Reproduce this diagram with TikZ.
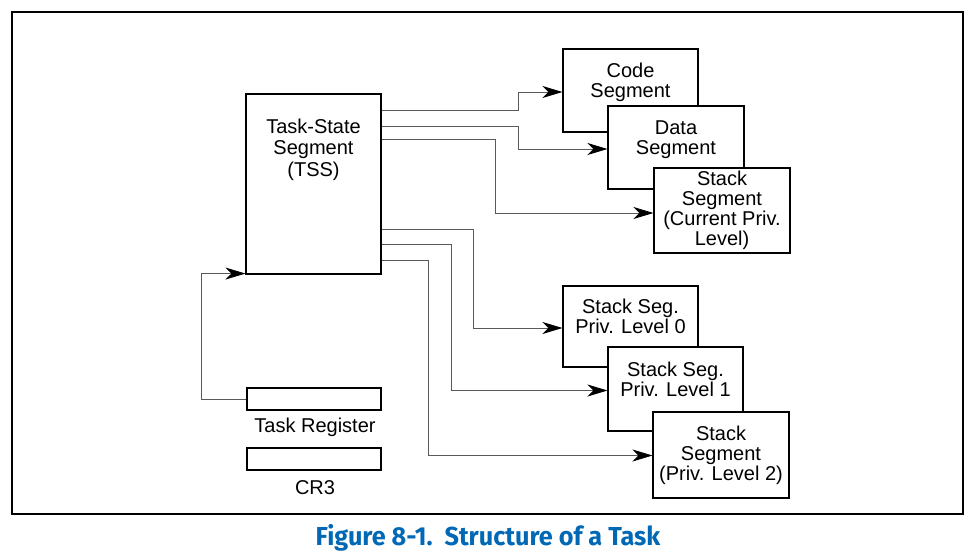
\documentclass[tikz,border=0pt]{standalone}
\usepackage{fontspec}
\setmainfont{Liberation Sans}
\newfontfamily\capfont{Fira Sans}
\usetikzlibrary{arrows.meta}
\definecolor{capblue}{RGB}{0,104,181}
\begin{document}
\begin{tikzpicture}[
			x=1pt, y=-1pt,
			seg/.style={draw, line width=1.1pt, fill=white, align=center, inner sep=0pt,
					font=\fontsize{20}{20}\selectfont},
			conn/.style={draw=black!65, line width=0.8pt,
					-{Stealth[length=20pt,width=12pt,inset=6pt,color=black]}},
			reg/.style={draw, line width=1.1pt, minimum width=134pt, minimum height=22pt, inner sep=0pt}
		]
		\useasboundingbox (0,0) rectangle (973,556);
		\draw[line width=1.3pt] (12,12) rectangle (963,514);
		\node[seg, minimum width=135pt, minimum height=180pt,
			label={[seg, draw=none, fill=none, anchor=north, yshift=-25pt,
					font=\fontsize{20}{21.5}\selectfont]north:Task-State\\Segment\\(TSS)}] (tss) at (313.5,184) {};
		\node[seg, minimum width=135pt, minimum height=83pt] (code) at (630.5,90.5) {Code\\Segment\\\mbox{}};
		\node[seg, minimum width=136pt, minimum height=83pt] (data) at (676,147.5) {Data\\Segment\\\mbox{}};
		\node[seg, minimum width=136pt, minimum height=85pt] (stk) at (722,210.5) {Stack\\Segment\\(Current Priv.\\Level)};
		\node[seg, minimum width=135pt, minimum height=81pt] (pl0) at (630.5,326.5) {Stack Seg.\\Priv. Level 0\\\mbox{}};
		\node[seg, minimum width=135pt, minimum height=84pt] (pl1) at (675.5,389) {Stack Seg.\\Priv. Level 1\\\mbox{}};
		\node[seg, minimum width=136pt, minimum height=86pt] (pl2) at (721,455) {Stack\\Segment\\(Priv. Level 2)};
		\node[reg] (tr) at (314,399) {};
		\node[font=\fontsize{20}{20}\selectfont] (trlabel) at (315,427) {Task Register};
		\node[reg] (cr3) at (314,459) {};
		\node[font=\fontsize{20}{20}\selectfont] (cr3label) at (315,488) {CR3};
		\draw[conn] ([yshift=-17pt]tss.north east) -- ++(137,0) |- ([yshift=-1.5pt]code.west);
		\draw[conn] ([yshift=-33pt]tss.north east) -- ++(137,0) |- ([yshift=-1.5pt]data.west);
		\draw[conn] ([yshift=-46pt]tss.north east) -- ++(114,0) |- ([yshift=-2.5pt]stk.west);
		\draw[conn] ([yshift=-136pt]tss.north east) -- ++(92,0) |- ([yshift=-1.5pt]pl0.west);
		\draw[conn] ([yshift=-151pt]tss.north east) -- ++(70,0) |- ([yshift=-1.5pt]pl1.west);
		\draw[conn] ([yshift=-166.5pt]tss.north east) -- ++(47,0) |- ([yshift=-0.5pt]pl2.west);
		\draw[conn] (tr.west) -- ++(-45,0) |- ([yshift=1pt]tss.south west);
		\node[text=capblue, font=\capfont\bfseries\fontsize{26}{27}\selectfont] (caption) at (488,538)
			{\scalebox{0.97}[1]{Figure 8-1.\ \ Structure of a Task}};
	\end{tikzpicture}
\end{document}
